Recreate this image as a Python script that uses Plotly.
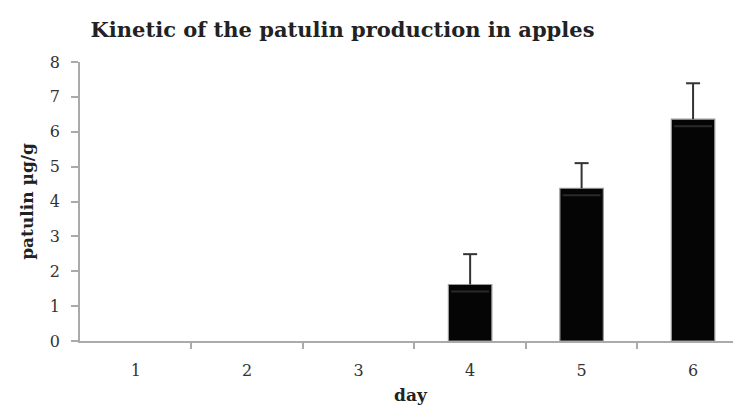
import plotly.graph_objects as go

days = [1, 2, 3, 4, 5, 6]
patulin = [0, 0, 0, 1.62, 4.38, 6.36]
errors = [0, 0, 0, 0.87, 0.72, 1.03]
y_ticks = [0, 1, 2, 3, 4, 5, 6, 7, 8]

FONT = "DejaVu Serif"

outline_w = [1.2 if v > 0 else 0 for v in patulin]

fig = go.Figure()
fig.add_trace(go.Bar(
    x=days, y=patulin, width=0.39,
    marker=dict(color="#050505", line=dict(color="#9a9a9a", width=outline_w)),
    showlegend=False,
))

nz = [(d, v, e) for d, v, e in zip(days, patulin, errors) if v > 0]
# upper error bar stems (no caps), anchored at the bar top
fig.add_trace(go.Scatter(
    x=[d for d, v, e in nz], y=[v for d, v, e in nz], mode="markers",
    marker=dict(size=0.1, color="rgba(0,0,0,0)"),
    error_y=dict(type="data", array=[e for d, v, e in nz], arrayminus=[0]*len(nz),
                 symmetric=False, color="#333333", thickness=2, width=0),
    showlegend=False, hoverinfo="skip",
))
# error bar caps
fig.add_trace(go.Scatter(
    x=[d for d, v, e in nz], y=[v + e for d, v, e in nz], mode="markers",
    marker=dict(symbol="line-ew", size=10, line=dict(color="#333333", width=2)),
    showlegend=False, hoverinfo="skip",
))
# faint inner line visible just under the bar tops
fig.add_trace(go.Scatter(
    x=[d for d, v, e in nz], y=[v - 0.2 for d, v, e in nz], mode="markers",
    marker=dict(symbol="line-ew", size=27, line=dict(color="#2a2a2a", width=2)),
    showlegend=False, hoverinfo="skip",
))

# page body has an 8px margin: figure sized so the page does not overflow
fig.update_layout(
    width=733, height=398,
    margin=dict(l=72, r=0, t=54, b=65, autoexpand=False),
    paper_bgcolor="white", plot_bgcolor="white",
    title=dict(text="<b>Kinetic of the patulin production in apples</b>",
               x=0.4564, xanchor="center", y=1 - 22 / 398, yanchor="middle",
               font=dict(family=FONT, size=21, color="#222222")),
    font=dict(family=FONT, color="#222222"),
    xaxis=dict(
        range=[0.5, 6.43], tickvals=days, ticktext=[str(d) for d in days],
        ticks="", showgrid=False, zeroline=False, automargin=False,
        showline=True, linecolor="#aaaaaa", linewidth=1.5,
        ticklabelstandoff=14,
        tickfont=dict(family=FONT, size=16, color="#333333"),
        minor=dict(tickvals=[1.5, 2.5, 3.5, 4.5, 5.5], ticks="outside",
                   ticklen=6, tickcolor="#aaaaaa", tickwidth=1.5, showgrid=False),
        title=dict(text="<b>day</b>", font=dict(family=FONT, size=17, color="#222222"),
                   standoff=10),
    ),
    yaxis=dict(
        range=[0, 8], tickvals=y_ticks, ticks="outside", ticklen=7,
        tickcolor="#aaaaaa", tickwidth=1.5, showgrid=False, zeroline=False,
        automargin=False, ticklabelstandoff=8,
        showline=True, linecolor="#aaaaaa", linewidth=1.5,
        tickfont=dict(family=FONT, size=16, color="#333333"),
        title=dict(text="<b>patulin µg/g</b>", font=dict(family=FONT, size=17, color="#222222"),
                   standoff=12),
    ),
)

fig.write_html("out.html")
